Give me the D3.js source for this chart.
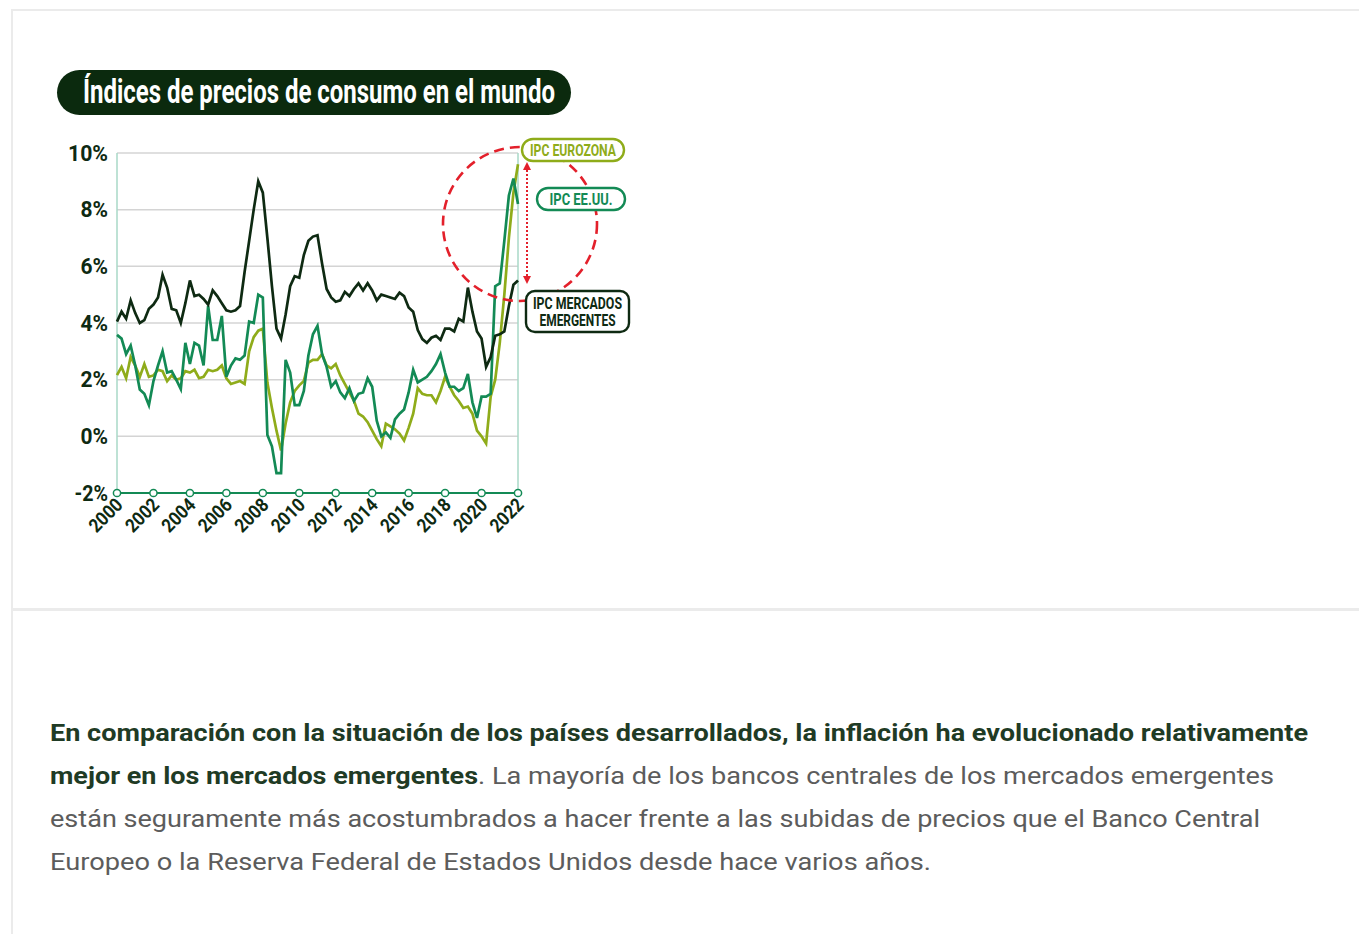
<!DOCTYPE html>
<html>
<head>
<meta charset="utf-8">
<script src="https://cdn.jsdelivr.net/npm/d3@7"></script>
<style>
  html, body { margin: 0; padding: 0; background: #fff; }
  body { width: 1359px; height: 934px; position: relative; overflow: hidden; }
  .frame-top { position: absolute; left: 11px; top: 9px; width: 1348px; height: 2px; background: #ebebeb; }
  .frame-left { position: absolute; left: 11px; top: 9px; width: 2px; height: 925px; background: #ebebeb; }
  .sep { position: absolute; left: 13px; top: 608px; width: 1346px; height: 3px; background: #ebebeb; }
  svg { position: absolute; left: 0; top: 0; }
</style>
</head>
<body>
<div class="frame-top"></div>
<div class="frame-left"></div>
<div class="sep"></div>
<script>
// Quarterly values, 2000 Q1 .. 2022 Q1
var startYear = 2000;
var perYear = 4;

var emergentes = [
  4.05, 4.4, 4.15, 4.8,
  4.35, 4.0, 4.1, 4.5,
  4.65, 4.9, 5.7, 5.25,
  4.5, 4.45, 4.0, 4.7,
  5.5, 4.95, 5.0, 4.85,
  4.65, 5.15, 4.95, 4.7,
  4.45, 4.4, 4.45, 4.6,
  5.8, 6.9, 8.0, 9.0,
  8.6, 7.0, 5.3, 3.8,
  3.45, 4.3, 5.3, 5.65,
  5.6, 6.4, 6.9, 7.05,
  7.1, 6.1, 5.2, 4.9,
  4.75, 4.8, 5.1, 4.95,
  5.2, 5.4, 5.15, 5.4,
  5.15, 4.8, 5.0, 4.95,
  4.9, 4.85, 5.07, 4.95,
  4.55, 4.4, 3.75, 3.43,
  3.3, 3.48, 3.55, 3.4,
  3.8, 3.8, 3.7, 4.15,
  4.05, 5.25, 4.4, 3.7,
  3.45, 2.45, 2.8, 3.55,
  3.6, 3.7, 4.6, 5.35,
  5.5
];

var eeuu = [
  3.58, 3.45, 2.9, 3.2,
  2.5, 1.65, 1.5, 1.1,
  1.95, 2.5, 3.0, 2.25,
  2.3, 2.0, 1.67, 3.3,
  2.55, 3.3, 3.2, 2.5,
  4.6, 3.4, 3.4, 4.25,
  2.1, 2.5, 2.75, 2.7,
  2.85, 4.05, 4.0, 5.0,
  4.9, 0.05, -0.35, -1.3,
  -1.3, 2.7, 2.25, 1.1,
  1.1, 1.6, 2.85, 3.6,
  3.9, 2.9, 2.45, 1.75,
  1.95, 1.55, 1.35, 1.7,
  1.25, 1.5, 1.55, 2.05,
  1.75, 0.55, 0.0, 0.14,
  -0.05, 0.6, 0.8, 0.95,
  1.55, 2.35, 1.9, 2.0,
  2.1, 2.3, 2.55, 2.9,
  2.25, 1.75, 1.75, 1.6,
  1.7, 2.2, 1.2, 0.65,
  1.4, 1.4, 1.5, 5.3,
  5.4, 6.9, 8.5, 9.1,
  8.2
];

var eurozona = [
  2.16, 2.45, 2.05, 2.8,
  2.5, 2.1, 2.55, 2.1,
  2.15, 2.35, 2.3, 1.95,
  2.15, 2.0, 2.05, 2.3,
  2.25, 2.35, 2.05, 2.1,
  2.35, 2.3, 2.35, 2.5,
  2.05, 1.85, 1.9, 1.95,
  1.85, 3.0, 3.5, 3.73,
  3.8, 1.9, 1.0, 0.2,
  -0.5, 0.45, 1.2, 1.6,
  1.8, 1.95, 2.6, 2.7,
  2.7, 2.9, 2.5, 2.4,
  2.55, 2.15, 1.85, 1.55,
  1.25, 0.8, 0.7, 0.5,
  0.2, -0.1, -0.35, 0.45,
  0.35, 0.25, 0.1, -0.15,
  0.3, 0.8, 1.7, 1.5,
  1.45, 1.45, 1.2, 1.6,
  2.1, 1.75, 1.45, 1.25,
  1.0, 1.05, 0.8, 0.2,
  0.0, -0.25, 1.4, 2.0,
  3.3, 5.0, 7.0, 8.6,
  9.6
];

var yTicks = [-2, 0, 2, 4, 6, 8, 10];
var xTicks = [2000, 2002, 2004, 2006, 2008, 2010, 2012, 2014, 2016, 2018, 2020, 2022];
var title = "Índices de precios de consumo en el mundo";

var darkGreen = "#0e2a12";
var midGreen = "#138a55";
var olive = "#8fac1a";
var red = "#e3202b";
var font = "Roboto, 'DejaVu Sans', sans-serif";

var svg = d3.select("body").append("svg")
    .attr("width", 1359)
    .attr("height", 934);

var x = d3.scaleLinear().domain([2000, 2022]).range([117, 518]);
var y = d3.scaleLinear().domain([-2, 10]).range([493, 153]);

// title pill
svg.append("rect")
    .attr("x", 57).attr("y", 70)
    .attr("width", 514).attr("height", 45)
    .attr("rx", 22.5)
    .attr("fill", "#0b2a0e");
svg.append("text")
    .attr("x", 83).attr("y", 103)
    .attr("textLength", 472)
    .attr("lengthAdjust", "spacingAndGlyphs")
    .style("font-family", font)
    .style("font-weight", "bold")
    .style("font-size", "33px")
    .attr("fill", "#fff")
    .text(title);

// gridlines
svg.append("g").selectAll("line")
    .data(yTicks.filter(function(d) { return d > -2; }))
    .enter().append("line")
    .attr("x1", x(2000)).attr("x2", x(2022))
    .attr("y1", function(d) { return y(d); })
    .attr("y2", function(d) { return y(d); })
    .attr("stroke", "#d4d4d4")
    .attr("stroke-width", 1.5);

// side lines
[2000, 2022].forEach(function(v) {
    svg.append("line")
        .attr("x1", x(v)).attr("x2", x(v))
        .attr("y1", y(10)).attr("y2", y(-2))
        .attr("stroke", "#a9d8c7")
        .attr("stroke-width", 1.5);
});

// y labels (condensed look through textLength)
function labelWidth(s) {
    var w = 0;
    s.split("").forEach(function(c) { w += c === "%" ? 15 : (c === "-" ? 6 : 12.5); });
    return w;
}
svg.append("g").selectAll("text")
    .data(yTicks)
    .enter().append("text")
    .attr("x", 108)
    .attr("y", function(d) { return y(d) + 7.5; })
    .attr("text-anchor", "end")
    .attr("textLength", function(d) { return labelWidth(d + "%"); })
    .attr("lengthAdjust", "spacingAndGlyphs")
    .style("font-family", font)
    .style("font-weight", "bold")
    .style("font-size", "22px")
    .attr("fill", darkGreen)
    .text(function(d) { return d + "%"; });

// lines
var line = d3.line()
    .x(function(d, i) { return x(startYear + i / perYear); })
    .y(function(d) { return y(d); });

[[eurozona, olive], [eeuu, midGreen], [emergentes, darkGreen]].forEach(function(s) {
    svg.append("path")
        .datum(s[0])
        .attr("d", line)
        .attr("fill", "none")
        .attr("stroke", s[1])
        .attr("stroke-width", 2.7)
        .attr("stroke-linejoin", "miter");
});

// x axis with circle markers
svg.append("line")
    .attr("x1", x(2000)).attr("x2", x(2022))
    .attr("y1", y(-2)).attr("y2", y(-2))
    .attr("stroke", midGreen)
    .attr("stroke-width", 1.8);
svg.append("g").selectAll("circle")
    .data(xTicks)
    .enter().append("circle")
    .attr("cx", function(d) { return x(d); })
    .attr("cy", y(-2))
    .attr("r", 3.6)
    .attr("fill", "#fff")
    .attr("stroke", midGreen)
    .attr("stroke-width", 1.5);
svg.append("g").selectAll("text")
    .data(xTicks)
    .enter().append("text")
    .attr("transform", function(d) { return "translate(" + (x(d) + 7) + "," + (y(-2) + 13) + ") rotate(-45)"; })
    .attr("text-anchor", "end")
    .attr("textLength", 39)
    .attr("lengthAdjust", "spacingAndGlyphs")
    .style("font-family", font)
    .style("font-weight", "bold")
    .style("font-size", "19px")
    .attr("fill", darkGreen)
    .text(function(d) { return d; });

// red dashed circle
svg.append("circle")
    .attr("cx", 520).attr("cy", 224).attr("r", 77)
    .attr("fill", "none")
    .attr("stroke", red)
    .attr("stroke-width", 2.6)
    .attr("stroke-dasharray", "10,6");

// dotted double arrow
var defs = svg.append("defs");
defs.append("marker")
    .attr("id", "ah")
    .attr("viewBox", "0 0 10 10")
    .attr("refX", 5).attr("refY", 5)
    .attr("markerWidth", 4).attr("markerHeight", 4)
    .attr("orient", "auto-start-reverse")
    .append("path")
    .attr("d", "M0,0 L10,5 L0,10 Z")
    .attr("fill", red);
svg.append("line")
    .attr("x1", 527).attr("x2", 527)
    .attr("y1", 166).attr("y2", 280)
    .attr("stroke", red)
    .attr("stroke-width", 2)
    .attr("stroke-dasharray", "2,2")
    .attr("marker-start", "url(#ah)")
    .attr("marker-end", "url(#ah)");

// labels
function pill(x0, y0, w, h, r, color, lines, widths) {
    svg.append("rect")
        .attr("x", x0).attr("y", y0)
        .attr("width", w).attr("height", h)
        .attr("rx", r)
        .attr("fill", "#fff")
        .attr("stroke", color)
        .attr("stroke-width", 2.4);
    lines.forEach(function(t, i) {
        svg.append("text")
            .attr("x", x0 + w / 2)
            .attr("y", y0 + (h - lines.length * 16) / 2 + 13.5 + i * 17)
            .attr("text-anchor", "middle")
            .attr("textLength", widths[i])
            .attr("lengthAdjust", "spacingAndGlyphs")
            .style("font-family", font)
            .style("font-weight", "bold")
            .style("font-size", "16.5px")
            .attr("fill", color)
            .text(t);
    });
}
pill(522, 139, 102, 22, 11, olive, ["IPC EUROZONA"], [86]);
pill(537, 188, 88, 22, 11, midGreen, ["IPC EE.UU."], [63]);
pill(526, 291, 103, 41, 9, darkGreen, ["IPC MERCADOS", "EMERGENTES"], [89, 76]);

// paragraph below the chart
var para = svg.append("g")
    .style("font-family", font)
    .style("font-size", "23px");
para.append("text")
    .attr("x", 50).attr("y", 741)
    .attr("textLength", 1258).attr("lengthAdjust", "spacingAndGlyphs")
    .style("font-weight", "bold").attr("fill", "#1f3b25")
    .text("En comparación con la situación de los países desarrollados, la inflación ha evolucionado relativamente");
para.append("text")
    .attr("x", 50).attr("y", 784)
    .attr("textLength", 428).attr("lengthAdjust", "spacingAndGlyphs")
    .style("font-weight", "bold").attr("fill", "#1f3b25")
    .text("mejor en los mercados emergentes");
para.append("text")
    .attr("x", 478).attr("y", 784)
    .attr("textLength", 796).attr("lengthAdjust", "spacingAndGlyphs")
    .attr("fill", "#5c5c5c")
    .text(". La mayoría de los bancos centrales de los mercados emergentes");
para.append("text")
    .attr("x", 50).attr("y", 827)
    .attr("textLength", 1210).attr("lengthAdjust", "spacingAndGlyphs")
    .attr("fill", "#5c5c5c")
    .text("están seguramente más acostumbrados a hacer frente a las subidas de precios que el Banco Central");
para.append("text")
    .attr("x", 50).attr("y", 870)
    .attr("textLength", 881).attr("lengthAdjust", "spacingAndGlyphs")
    .attr("fill", "#5c5c5c")
    .text("Europeo o la Reserva Federal de Estados Unidos desde hace varios años.");
</script>
</body>
</html>
